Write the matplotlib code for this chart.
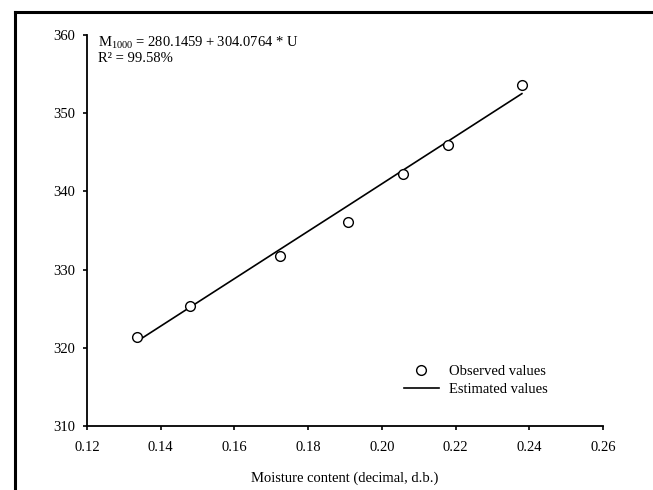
import matplotlib
matplotlib.use("Agg")
import matplotlib.pyplot as plt
from matplotlib.lines import Line2D

plt.rcParams['font.family'] = ['Liberation Serif', 'DejaVu Serif']
plt.rcParams['mathtext.fontset'] = 'custom'
plt.rcParams['mathtext.rm'] = 'Liberation Serif'

# 含水率 (decimal, d.b.) 与 M1000
moisture = [0.1335, 0.1480, 0.1724, 0.1909, 0.2057, 0.2179, 0.2380]
observed = [321.4, 325.3, 331.7, 336.1, 342.2, 345.9, 353.6]
estimated = [320.8, 325.2, 332.6, 338.2, 342.7, 346.4, 352.5]

x_ticks = [0.12, 0.14, 0.16, 0.18, 0.20, 0.22, 0.24, 0.26]
y_ticks = [310, 320, 330, 340, 350, 360]

fs = 10.5

fig = plt.figure(figsize=(6.53, 4.90), dpi=100)
ax = fig.add_axes([0.1332, 0.1306, 0.7902, 0.7980])

ax.plot(moisture, observed, 'o', ms=7, mfc='white', mec='black', mew=1.0,
        ls='none', label='Observed values', zorder=3)
ax.plot(moisture, estimated, '-', color='black', lw=1.2, label='Estimated values')

ax.set_xlim(0.12, 0.26)
ax.set_ylim(310, 360)
ax.set_xticks(x_ticks)
ax.set_xticklabels([f'{t:.2f}' for t in x_ticks])
ax.set_yticks(y_ticks)
ax.tick_params(direction='out', length=3.2, width=1.2, labelsize=fs, pad=5.5, colors='black')
ax.tick_params(axis='x', pad=7.5)
for s in ['top', 'right']:
    ax.spines[s].set_visible(False)
for s in ['left', 'bottom']:
    ax.spines[s].set_linewidth(1.3)

ax.set_xlabel('Moisture content (decimal, d.b.)', fontsize=fs, labelpad=13)

ax.text(0.021, 0.9795, r'M$_{\mathrm{1000}}$ = 280.1459 + 304.0764 * U', transform=ax.transAxes,
        fontsize=fs, va='center', ha='left')
ax.text(0.021, 0.9386, 'R² = 99.58%', transform=ax.transAxes,
        fontsize=fs, va='center', ha='left')

ax.legend(loc='upper left', bbox_to_anchor=(0.6, 0.175), frameon=False, fontsize=fs,
          handlelength=2.4, handletextpad=0.7, labelspacing=0.3, borderpad=0)

# 外框
x0 = 14.5 / 653
y0 = 1 - 12.5 / 490
fig.add_artist(Line2D([x0, x0], [0, y0], color='black', lw=2.2, transform=fig.transFigure))
fig.add_artist(Line2D([x0, 1], [y0, y0], color='black', lw=2.2, transform=fig.transFigure))

fig.savefig('out.png', dpi=100)
